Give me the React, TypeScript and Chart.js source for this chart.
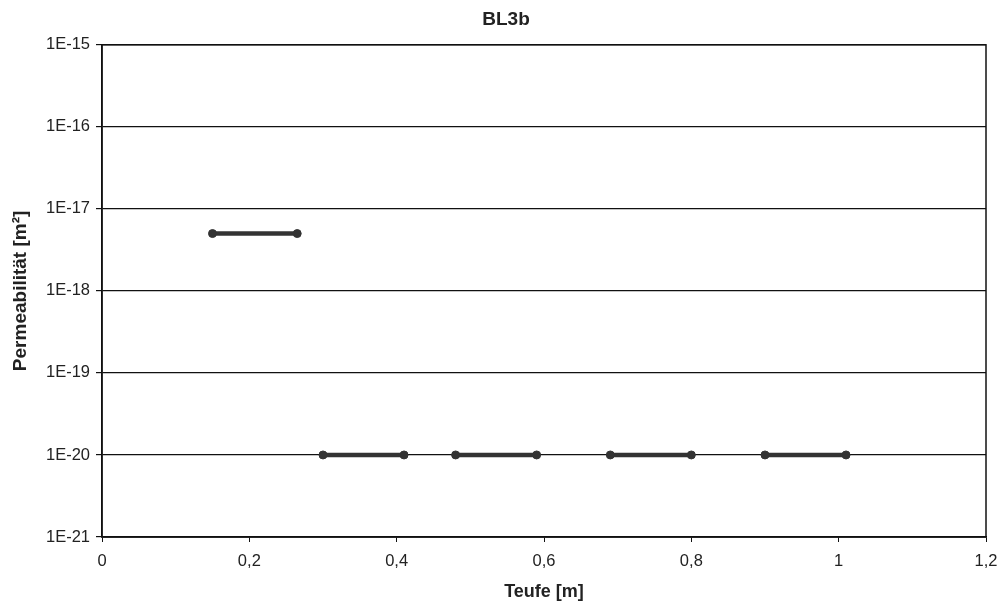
import React, { useEffect, useRef } from "react";
import { Chart, registerables } from "chart.js";

Chart.register(...registerables);

// Depth intervals (Teufe, m) and measured permeability (m²)
const segStart = [0.15, 0.30, 0.48, 0.69, 0.90];
const segEnd = [0.265, 0.41, 0.59, 0.80, 1.01];
const permeability = [5e-18, 1e-20, 1e-20, 1e-20, 1e-20];

const xTickLabels = ["0", "0,2", "0,4", "0,6", "0,8", "1", "1,2"];
const yExponents = [-21, -20, -19, -18, -17, -16, -15];

const chartTitle = "BL3b";
const xTitle = "Teufe [m]";
const yTitle = "Permeabilität [m²]";

const LINE_COLOR = "#333333";
const FONT = "'Liberation Sans', Arial, sans-serif";

const framePlugin = {
  id: "frame",
  afterDraw(chart: any) {
    const { ctx, chartArea } = chart;
    ctx.save();
    ctx.strokeStyle = "#111";
    ctx.lineWidth = 1.5;
    ctx.strokeRect(chartArea.left, chartArea.top, chartArea.right - chartArea.left, chartArea.bottom - chartArea.top);
    ctx.restore();
  },
};

export default function App() {
  const ref = useRef<HTMLCanvasElement | null>(null);

  useEffect(() => {
    if (!ref.current) return;
    const datasets = segStart.map((s, i) => ({
      label: `Intervall ${i + 1}`,
      data: [
        { x: s, y: permeability[i] },
        { x: segEnd[i], y: permeability[i] },
      ],
      showLine: true,
      borderColor: LINE_COLOR,
      backgroundColor: LINE_COLOR,
      borderWidth: 4.5,
      pointRadius: 4,
      pointStyle: "circle" as const,
      pointBorderWidth: 1,
    }));

    const chart = new Chart(ref.current, {
      type: "scatter",
      data: { datasets },
      plugins: [framePlugin],
      options: {
        animation: false,
        responsive: false,
        layout: { padding: { left: 26, right: 17, top: 0, bottom: 0 } },
        plugins: {
          legend: { display: false },
          tooltip: { enabled: false },
          title: {
            display: true,
            text: chartTitle,
            color: "#222",
            font: { family: FONT, size: 19, weight: "bold" },
            padding: { top: 8, bottom: 14 },
          },
        },
        scales: {
          x: {
            type: "linear",
            min: 0,
            max: 1.2,
            afterFit: (scale: any) => {
              scale.height = 68;
              scale.paddingRight = 0;
              scale.paddingLeft = 0;
            },
            afterBuildTicks: (scale: any) => {
              scale.ticks = xTickLabels.map((_, i) => ({ value: i * 0.2 }));
            },
            ticks: {
              color: "#222",
              font: { family: FONT, size: 16.5 },
              padding: 10,
              maxRotation: 0,
              autoSkip: false,
              callback: (_v: any, i: number) => xTickLabels[i],
            },
            grid: {
              display: true,
              drawOnChartArea: false,
              drawTicks: true,
              tickLength: 5,
              color: "#111",
            },
            border: { display: true, color: "#111", width: 1.5 },
            title: {
              display: true,
              text: xTitle,
              color: "#222",
              font: { family: FONT, size: 18, weight: "bold" },
              padding: { top: 0, bottom: 2 },
            },
          },
          y: {
            type: "logarithmic",
            min: 1e-21,
            max: 1e-15,
            afterFit: (scale: any) => {
              scale.width = 76;
            },
            afterBuildTicks: (scale: any) => {
              scale.ticks = yExponents.map((e) => ({ value: Math.pow(10, e) }));
            },
            ticks: {
              color: "#222",
              font: { family: FONT, size: 16.5 },
              padding: 6,
              autoSkip: false,
              callback: (_v: any, i: number) => "1E" + yExponents[i],
            },
            grid: {
              display: true,
              color: "#111",
              lineWidth: 1.2,
              drawTicks: true,
              tickLength: 6,
            },
            border: { display: true, color: "#111", width: 1.5 },
            title: {
              display: true,
              text: yTitle,
              color: "#222",
              font: { family: FONT, size: 19, weight: "bold" },
              padding: { top: -17, bottom: 0 },
            },
          },
        },
      },
    });
    return () => chart.destroy();
  }, []);

  return (
    <div style={{ position: "fixed", left: 0, top: 0, width: 1003, height: 605, background: "#fff" }}>
      <canvas ref={ref} width={1003} height={605} style={{ display: "block" }} />
    </div>
  );
}
